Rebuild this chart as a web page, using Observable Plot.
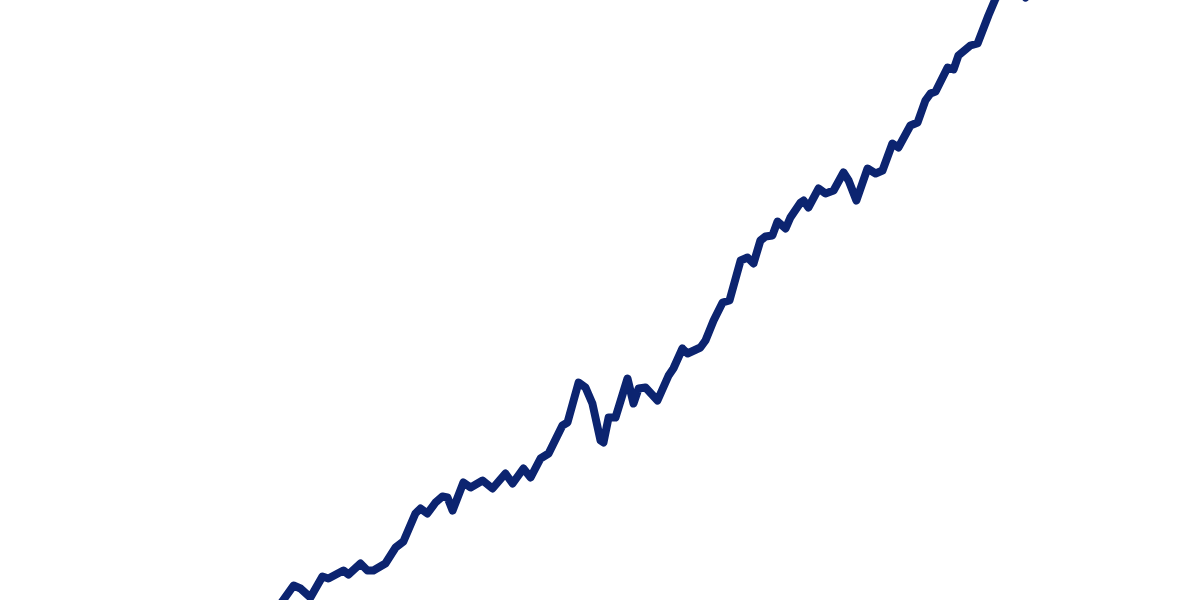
<!DOCTYPE html>
<html>
<head>
<meta charset="utf-8">
<script src="https://cdn.jsdelivr.net/npm/d3@7"></script>
<script src="https://cdn.jsdelivr.net/npm/@observablehq/plot@0.6"></script>
<style>
  html, body { margin: 0; padding: 0; background: #fff; overflow: hidden; }
  #chart svg { display: block; }
</style>
</head>
<body>
<div id="chart"></div>
<script>
const years = [
  1989.13, 1989.77, 1990.00, 1990.33, 1990.73, 1990.93, 1991.43, 1991.60, 1992.00, 1992.23,
  1992.43, 1992.83, 1993.17, 1993.43, 1993.83, 1994.00, 1994.23, 1994.50, 1994.73, 1994.90,
  1995.07, 1995.43, 1995.67, 1996.07, 1996.40, 1996.83, 1997.07, 1997.43, 1997.67, 1998.00,
  1998.27, 1998.73, 1998.90, 1999.27, 1999.50, 1999.73, 2000.00, 2000.10, 2000.27, 2000.50,
  2000.90, 2001.10, 2001.27, 2001.50, 2001.90, 2002.27, 2002.43, 2002.73, 2002.90, 2003.33,
  2003.50, 2003.77, 2004.07, 2004.30, 2004.67, 2004.90, 2005.10, 2005.33, 2005.50, 2005.73,
  2005.90, 2006.17, 2006.33, 2006.67, 2006.77, 2006.93, 2007.27, 2007.50, 2007.77, 2008.10,
  2008.27, 2008.53, 2008.90, 2009.17, 2009.40, 2009.73, 2009.93, 2010.33, 2010.57, 2010.83,
  2011.00, 2011.17, 2011.57, 2011.77, 2011.93, 2012.33, 2012.57, 2012.93, 2013.17, 2013.67,
  2014.17, 2014.67
];
const values = [
  -6, 7.5, 6, 1.5, 12, 11, 15, 13, 18.5, 15,
  15, 18.5, 26.5, 29.5, 43.5, 46, 43.5, 49, 52, 51.5,
  45, 59, 56.5, 60, 56, 63.5, 58.5, 66, 61.5, 71,
  73.5, 87.5, 89, 109, 106.5, 98.5, 80, 79, 91.5, 91.5,
  111, 98.5, 106, 106.5, 100, 112.5, 116, 126, 123.5, 126.5,
  130, 140, 149, 150, 170, 171.5, 168.5, 180, 182, 182.5,
  189.5, 186, 191.5, 199, 200, 196.5, 206, 203.5, 205, 214,
  210, 200, 216, 213.5, 215, 228.5, 226.5, 237.5, 239, 250,
  253.5, 254.5, 266.5, 265.5, 272.5, 277.5, 278.5, 292.5, 301, 310,
  301.5, 312.5
];
const data = years.map((year, i) => ({year, value: values[i]}));

const chart = Plot.plot({
  width: 1200,
  height: 600,
  margin: 0,
  x: {domain: [1980, 2020], axis: null},
  y: {domain: [0, 300], axis: null},
  marks: [
    Plot.line(data, {
      x: "year",
      y: "value",
      stroke: "#0c2470",
      strokeWidth: 8,
      strokeLinejoin: "round",
      strokeLinecap: "round",
      clip: true
    })
  ]
});
document.getElementById("chart").appendChild(chart);
</script>
</body>
</html>
